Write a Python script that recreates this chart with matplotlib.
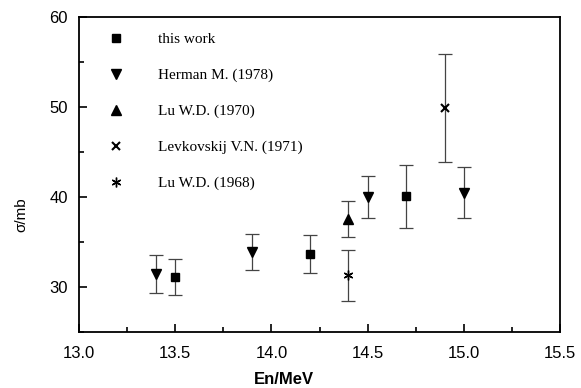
import matplotlib.pyplot as plt
from matplotlib.ticker import MultipleLocator

# data (En in MeV, sigma in mb)
this_x = [13.5, 14.2, 14.7]
this_y = [31.1, 33.7, 40.1]
this_err = [2.0, 2.1, 3.5]

herman_x = [13.4, 13.9, 14.5, 15.0]
herman_y = [31.5, 33.9, 40.0, 40.5]
herman_err = [2.1, 2.0, 2.3, 2.8]

lu70_x = [14.4]
lu70_y = [37.6]
lu70_err = [2.0]

levk_x = [14.9]
levk_y = [49.9]
levk_err = [6.0]

lu68_x = [14.4]
lu68_y = [31.3]
lu68_err = [2.8]

labels = ['this work', 'Herman M. (1978)', 'Lu W.D. (1970)',
          'Levkovskij V.N. (1971)', 'Lu W.D. (1968)']

#figure
fig = plt.figure(figsize=(5.81, 3.88), dpi=100)
ax = fig.add_axes([0.136, 0.144, 0.828, 0.812])

series = [
    (this_x, this_y, this_err, 's', 6),
    (herman_x, herman_y, herman_err, 'v', 7),
    (lu70_x, lu70_y, lu70_err, '^', 7),
    (levk_x, levk_y, levk_err, 'x', 6),
    (lu68_x, lu68_y, lu68_err, (6, 2, 0), 7),
]

for (x, y, e, m, ms), lab in zip(series, labels):
    ax.errorbar(x, y, yerr=e, fmt='none', ecolor='#444444', elinewidth=0.9,
                capsize=5, capthick=0.9)
    ax.plot(x, y, linestyle='none', marker=m, markersize=ms, color='black',
            markeredgewidth=1.5 if m == 'x' else 1, label=lab)

ax.set_xlim(13.0, 15.5)
ax.set_ylim(25, 60)
ax.xaxis.set_major_locator(MultipleLocator(0.5))
ax.xaxis.set_minor_locator(MultipleLocator(0.25))
ax.yaxis.set_major_locator(MultipleLocator(10))
ax.yaxis.set_minor_locator(MultipleLocator(5))
ax.xaxis.set_major_formatter(plt.FormatStrFormatter('%.1f'))

ax.tick_params(which='both', direction='in', width=1.2, labelsize=12)
ax.tick_params(which='major', length=6)
ax.tick_params(which='minor', length=3.5)
ax.tick_params(axis='x', pad=10)
ax.tick_params(axis='y', pad=8)
for lbl in ax.get_xticklabels() + ax.get_yticklabels():
    lbl.set_family('Liberation Sans')
for sp in ax.spines.values():
    sp.set_linewidth(1.3)

ax.set_xlabel('En/MeV', fontsize=12, fontweight='bold', family='Liberation Sans')
ax.xaxis.set_label_coords((284 - 79) / 481, -(372 - 332) / 315)
ax.set_ylabel('σ/mb', fontsize=11, family='Liberation Sans')
ax.yaxis.set_label_coords(-0.105, (332 - 215) / 315)

#legend
ax.legend(loc='upper left', bbox_to_anchor=(0.033, 0.97), frameon=False,
          prop={'family': 'Liberation Serif', 'size': 11},
          labelspacing=1.45, handletextpad=1.75, handlelength=2.0,
          borderaxespad=0)

plt.savefig('out.png', dpi=100)
